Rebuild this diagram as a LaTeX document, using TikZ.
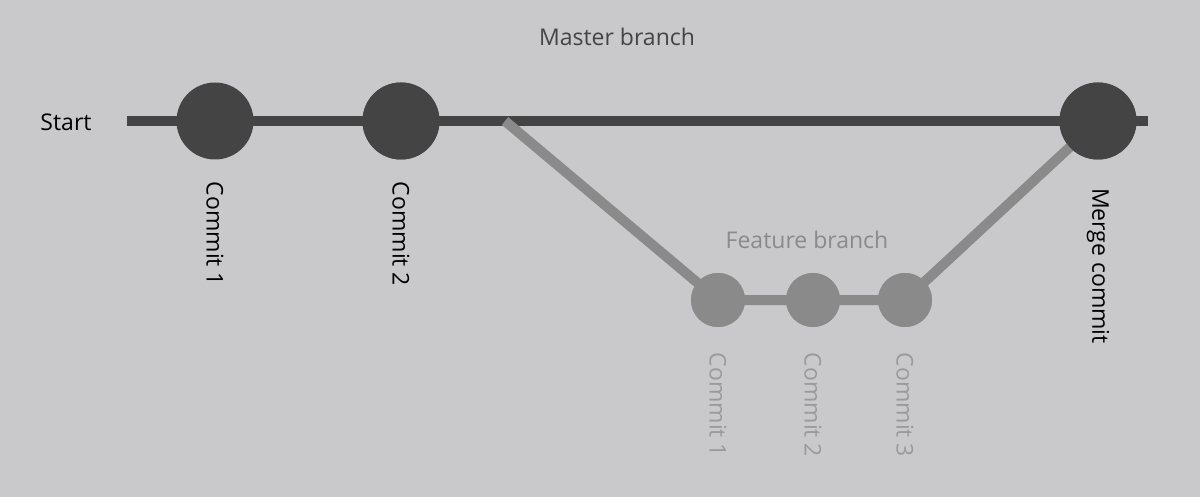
\documentclass[tikz,border=0pt]{standalone}
\usepackage{fontspec}
\setmainfont{Open Sans}
\begin{document}
\begin{tikzpicture}[x=1pt,y=-1pt,
  master/.style={line width=10pt,draw=mc},
  feat/.style={line width=10pt,draw=fc},
  mcommit/.style={circle,fill=mc,minimum size=77pt,inner sep=0pt},
  fcommit/.style={circle,fill=fc,minimum size=54pt,inner sep=0pt},
  lbl/.style={font=\fontsize{23}{26}\selectfont,inner sep=0pt},
  vlbl/.style={lbl,rotate=-90}]
\definecolor{bg}{HTML}{C9C9CB}
\definecolor{mc}{HTML}{444444}
\definecolor{fc}{HTML}{8A8A8A}
\definecolor{fl}{HTML}{9A9A9C}
\fill[bg] (0,0) rectangle (1200,497);
\useasboundingbox (0,0) rectangle (1200,497);
\coordinate (s) at (127,121);
\coordinate (e) at (1148,121);
\coordinate (b) at (505,121);
\node[mcommit] (m1) at (215,121) {};
\node[mcommit] (m2) at (401,121) {};
\node[mcommit] (mm) at (1098,121) {};
\draw[master] (s) -- (e);
\node[fcommit] (f1) at (718,300) {};
\node[fcommit] (f2) at (813,300) {};
\node[fcommit] (f3) at (905,300) {};
\draw[feat] (b) -- (f1.center) -- (f3.center) -- (mm.center);
\node[mcommit] at (mm) {};
\node[mcommit] at (m2) {};
\node[fcommit] at (f1) {};
\node[fcommit] at (f2) {};
\node[fcommit] at (f3) {};
\node[lbl,text=mc] (tm) at (617,37) {Master branch};
\node[lbl,text=black] (ts) at (66,122) {Start};
\node[vlbl,text=black] (c1) at (215,234) {Commit 1};
\node[vlbl,text=black] (c2) at (401,234) {Commit 2};
\node[vlbl,text=black] (cm) at (1098,266) {Merge commit};
\node[lbl,text=fc] (tf) at (807,240) {Feature branch};
\node[vlbl,text=fl] (d1) at (718,405) {Commit 1};
\node[vlbl,text=fl] (d2) at (813,405) {Commit 2};
\node[vlbl,text=fl] (d3) at (905,405) {Commit 3};
\end{tikzpicture}
\end{document}
